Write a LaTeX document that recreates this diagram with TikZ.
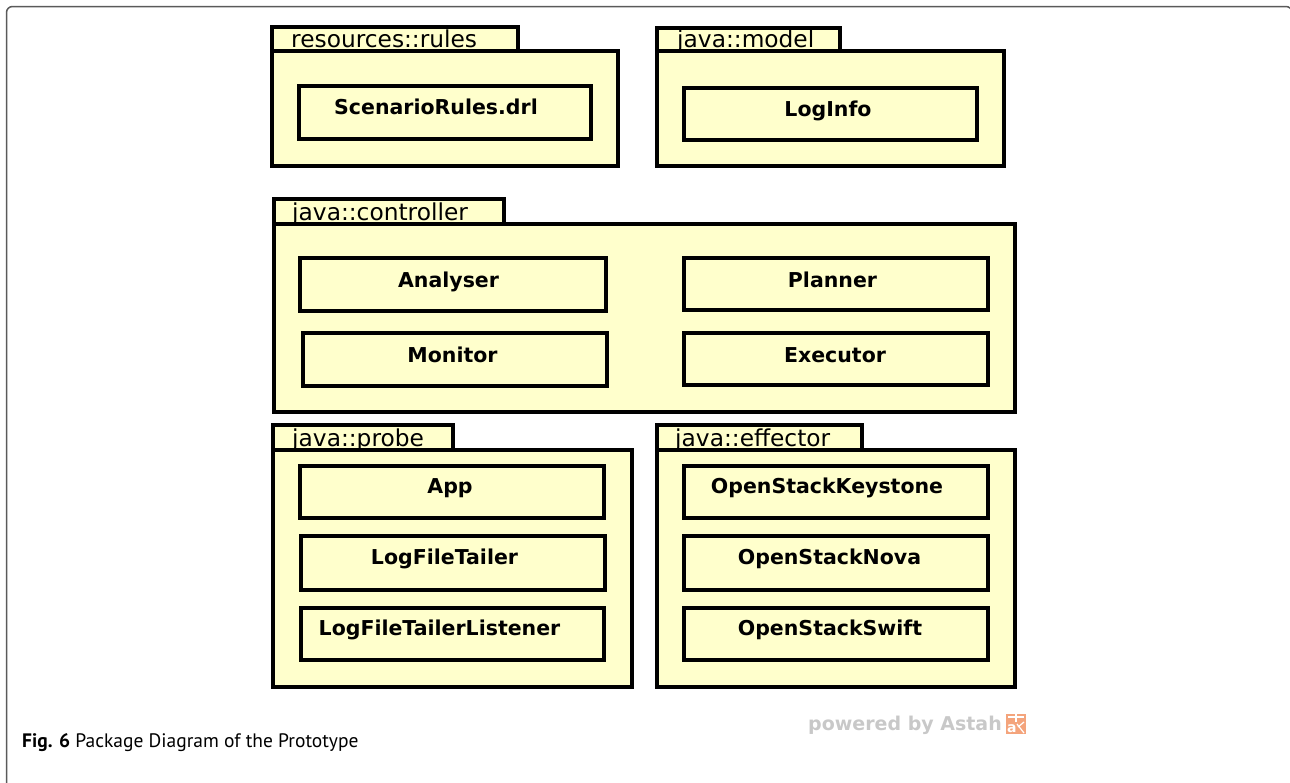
\documentclass[tikz,border=0pt]{standalone}
\usepackage{fontspec}
\setmainfont{DejaVu Sans}
\newfontfamily\capfont{PT Sans}
\usetikzlibrary{fit}
\definecolor{pkgfill}{RGB}{255,255,204}
\definecolor{framegray}{RGB}{90,90,90}
\definecolor{astahgray}{RGB}{200,200,200}
\definecolor{astahorange}{RGB}{244,164,124}
\tikzset{
  pkgtab/.style={draw=black, fill=pkgfill, line width=3.3pt, inner sep=0pt, fit={#1}},
  pkgbody/.style={draw=black, fill=pkgfill, line width=3.3pt, inner sep=0pt, fit={#1}},
  clsbox/.style={draw=black, fill=pkgfill, line width=3.3pt, inner sep=0pt, fit={#1}},
  tablabel/.style={anchor=base west, inner sep=0pt, font=\fontsize{23.3}{26}\selectfont},
  clslabel/.style={anchor=base, inner sep=0pt, font=\fontsize{20.5}{24}\selectfont\bfseries},
}
\begin{document}
\begin{tikzpicture}[x=1pt,y=-1pt]
\useasboundingbox (0,0) rectangle (1290,782);
\begin{scope}
\clip (0,0) rectangle (1290,782);
\draw[framegray, line width=1.5pt, rounded corners=6pt] (6.5,6.5) rectangle (1292,820);
\end{scope}

% resources::rules
\node[pkgtab={(272,27) (518,51)}] (rtab) {};
\node[pkgbody={(272,51) (618,166)}] (rbody) {};
\node[tablabel] (rlab) at (291,47) {resources::rules};
\node[clsbox={(299,86) (591,139)}] (scen) {};
\node[clslabel] (scenl) at (436,114.5) {ScenarioRules.drl};

% java::model
\node[pkgtab={(657,28) (840,51)}] (mtab) {};
\node[pkgbody={(657,51) (1004,166)}] (mbody) {};
\node[tablabel] (mlab) at (677,47.5) {java::model};
\node[clsbox={(684,88) (977,140)}] (loginfo) {};
\node[clslabel] (loginfol) at (828,116) {LogInfo};

% java::controller
\node[pkgtab={(274,199) (504,224)}] (ctab) {};
\node[pkgbody={(274,224) (1015,412)}] (cbody) {};
\node[tablabel] (clab) at (292,220.5) {java::controller};
\node[clsbox={(300,258) (606,311)}] (analyser) {};
\node[clslabel] (analyserl) at (448.5,287) {Analyser};
\node[clsbox={(303,333) (607,386)}] (monitor) {};
\node[clslabel] (monitorl) at (452.5,362) {Monitor};
\node[clsbox={(684,258) (988,310)}] (planner) {};
\node[clslabel] (plannerl) at (832.5,287) {Planner};
\node[clsbox={(684,333) (988,385)}] (executor) {};
\node[clslabel] (executorl) at (835,362) {Executor};

% java::probe
\node[pkgtab={(273,425) (453,450)}] (ptab) {};
\node[pkgbody={(273,450) (632,687)}] (pbody) {};
\node[tablabel] (plab) at (292,446.5) {java::probe};
\node[clsbox={(300,466) (604,518)}] (app) {};
\node[clslabel] (appl) at (450,493.5) {App};
\node[clsbox={(301,536) (605,590)}] (tailer) {};
\node[clslabel] (tailerl) at (444.5,564) {LogFileTailer};
\node[clsbox={(301,608) (604,660)}] (listener) {};
\node[clslabel] (listenerl) at (439.5,635.5) {LogFileTailerListener};

% java::effector
\node[pkgtab={(657,425) (862,450)}] (etab) {};
\node[pkgbody={(657,450) (1015,687)}] (ebody) {};
\node[tablabel] (elab) at (675,446.5) {java::effector};
\node[clsbox={(684,466) (988,518)}] (keystone) {};
\node[clslabel] (keystonel) at (827,493.5) {OpenStackKeystone};
\node[clsbox={(684,536) (988,590)}] (nova) {};
\node[clslabel] (noval) at (829.5,564) {OpenStackNova};
\node[clsbox={(684,608) (988,660)}] (swift) {};
\node[clslabel] (swiftl) at (830,635.5) {OpenStackSwift};

% powered by Astah
\node[anchor=base west, inner sep=0pt, text=astahgray, font=\fontsize{19}{22}\selectfont\bfseries] (powered) at (808,730) {powered by Astah};
\node[fill=astahorange, inner sep=0pt, minimum width=20pt, minimum height=20pt, anchor=north west] (logo) at (1006,714) {};
\draw[white, line width=1.2pt] (1008,717) -- (1024,717);
\draw[white, line width=1.2pt] (1016,714) -- (1016,722);
\draw[white, line width=1.2pt] (1017,724) -- (1024,733);
\draw[white, line width=1.2pt] (1024,722) -- (1018,727);
\node[anchor=base west, inner sep=0pt, text=white, font=\fontsize{14}{14}\selectfont\bfseries] (logoa) at (1007,732) {a};

% caption
\node[anchor=base west, inner sep=0pt, font=\capfont\fontsize{19.5}{22}\selectfont] (caption) at (22,747) {\textbf{Fig. 6} Package Diagram of the Prototype};
\end{tikzpicture}
\end{document}
